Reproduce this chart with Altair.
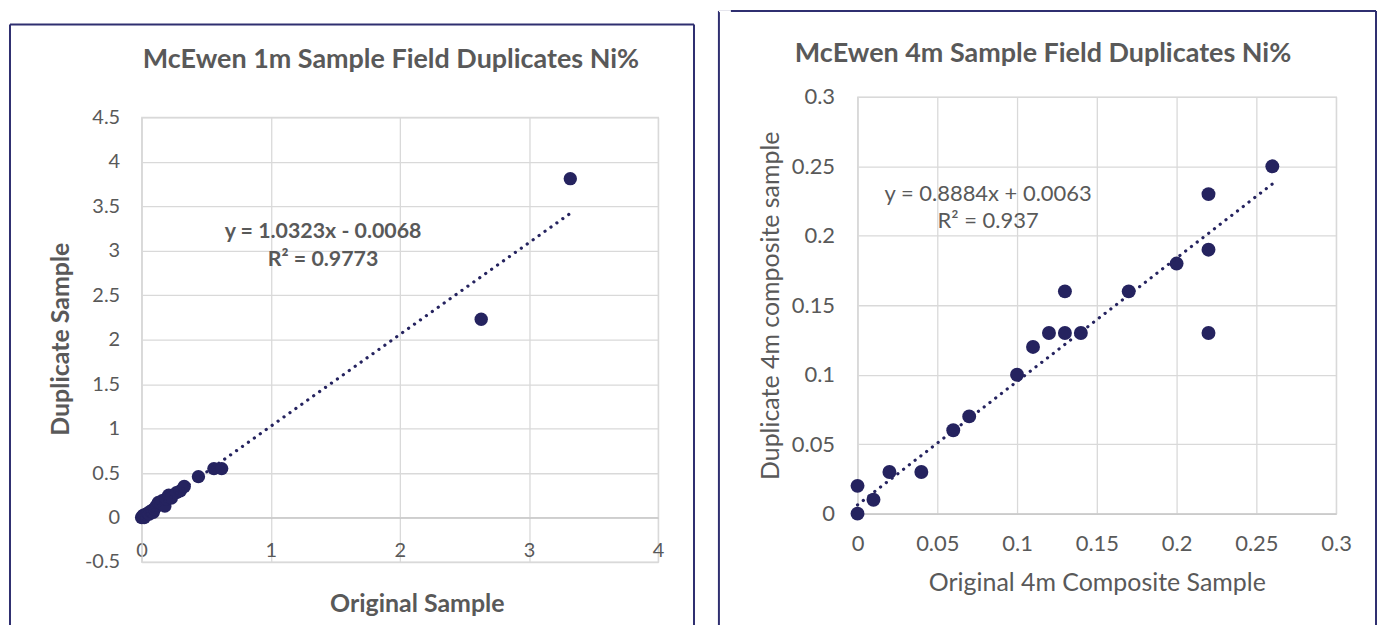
import altair as alt
import pandas as pd
import numpy as np

# ---------------- data: McEwen 1m field duplicates ----------------
orig_1m = [0.00, 0.01, 0.01, 0.02, 0.02, 0.03, 0.04, 0.05, 0.06, 0.07, 0.08, 0.09,
           0.10, 0.11, 0.12, 0.13, 0.15, 0.16, 0.18, 0.19, 0.21, 0.23, 0.27, 0.30,
           0.33, 0.44, 0.56, 0.62, 2.63, 3.32]
dup_1m = [0.00, 0.01, 0.02, 0.00, 0.03, 0.02, 0.04, 0.05, 0.04, 0.07, 0.08, 0.06,
          0.10, 0.12, 0.14, 0.17, 0.16, 0.19, 0.13, 0.21, 0.25, 0.22, 0.28, 0.30,
          0.35, 0.46, 0.55, 0.55, 2.23, 3.81]
slope_1m, intercept_1m = 1.0323, -0.0068
eq_1m = "y = 1.0323x - 0.0068"
r2_1m = "R² = 0.9773"
title_1m = "McEwen 1m Sample Field Duplicates Ni%"
xtitle_1m = "Original Sample"
ytitle_1m = "Duplicate Sample"
xticks_1m = [0, 1, 2, 3, 4]
yticks_1m = [-0.5, 0, 0.5, 1, 1.5, 2, 2.5, 3, 3.5, 4, 4.5]

# ---------------- data: McEwen 4m composite duplicates ----------------
orig_4m = [0.00, 0.00, 0.01, 0.02, 0.04, 0.06, 0.07, 0.10, 0.11, 0.12, 0.13, 0.13,
           0.14, 0.17, 0.20, 0.22, 0.22, 0.22, 0.26]
dup_4m = [0.00, 0.02, 0.01, 0.03, 0.03, 0.06, 0.07, 0.10, 0.12, 0.13, 0.13, 0.16,
          0.13, 0.16, 0.18, 0.23, 0.19, 0.13, 0.25]
slope_4m, intercept_4m = 0.8884, 0.0063
eq_4m = "y = 0.8884x + 0.0063"
r2_4m = "R² = 0.937"
title_4m = "McEwen 4m Sample Field Duplicates Ni%"
xtitle_4m = "Original 4m Composite Sample"
ytitle_4m = "Duplicate 4m composite sample"
xticks_4m = [0, 0.05, 0.1, 0.15, 0.2, 0.25, 0.3]
yticks_4m = [0, 0.05, 0.1, 0.15, 0.2, 0.25, 0.3]

NAVY = "#25235f"
FRAME = "#2f2f70"
TXT = "#595959"
GRID = "#d9d9d9"
AXIS = "#c4c4c4"
FONT = "Lato"

one = alt.Data(values=[{"k": 1}])


def frame_rules(left, right, top, bottom, align_top):
    base = alt.Chart(one)
    r1 = base.mark_rule(color=FRAME, strokeWidth=2).encode(
        x=alt.value(left), y=alt.value(top), y2=alt.value(bottom))
    r2 = base.mark_rule(color=FRAME, strokeWidth=2).encode(
        x=alt.value(right), y=alt.value(top), y2=alt.value(bottom))
    r3 = base.mark_rule(color=FRAME, strokeWidth=2).encode(
        x=alt.value(left), x2=alt.value(right), y=alt.value(top))
    r4 = base.mark_rule(color="white", strokeWidth=2).encode(
        x=alt.value(left), x2=alt.value(left + 12), y=alt.value(align_top))
    return [r1, r2, r3, r4]


def text_at(txt, x, y, size, bold):
    return alt.Chart(one).mark_text(
        font=FONT, fontSize=size, fontWeight="bold" if bold else "normal",
        color=TXT, align="center", baseline="middle").encode(
        x=alt.value(x), y=alt.value(y), text=alt.value(txt))


def panel(xs, ys, slope, intercept, eq, r2, title, xtitle, ytitle, xticks, yticks,
          w, h, xoff, lab_size, ttl_size, ttl_bold, eq_size, eq_bold, msize,
          xlab_pad, ylab_pad, xt_pos, yt_pos, title_pos, eq_pos, frame):
    df = pd.DataFrame({"orig": xs, "dup": ys})
    xr = np.array([min(xs), max(xs)])
    tr = pd.DataFrame({"orig": xr, "dup": slope * xr + intercept})

    label_expr = "datum.value + ''"
    xenc = alt.X("orig:Q",
                 scale=alt.Scale(domain=[xticks[0], xticks[-1]], nice=False, zero=False),
                 axis=alt.Axis(values=xticks, labelExpr=label_expr, offset=xoff,
                               labelFlush=False, labelOverlap=False,
                               grid=True, gridColor=GRID, gridWidth=1.3,
                               domain=True, domainColor=AXIS, domainWidth=1.3,
                               ticks=False, tickSize=0, labelPadding=xlab_pad,
                               labelBaseline="middle",
                               labelFont=FONT, labelFontSize=lab_size, labelColor=TXT,
                               title=xtitle, titleFont=FONT, titleFontSize=ttl_size,
                               titleFontWeight="bold" if ttl_bold else "normal",
                               titleColor=TXT, titleX=xt_pos[0], titleY=xt_pos[1],
                               titleAlign="center", titleBaseline="middle"))
    yenc = alt.Y("dup:Q",
                 scale=alt.Scale(domain=[yticks[0], yticks[-1]], nice=False, zero=False),
                 axis=alt.Axis(values=yticks, labelExpr=label_expr,
                               labelFlush=False, labelOverlap=False,
                               grid=True, gridColor=GRID, gridWidth=1.3,
                               domain=True, domainColor=GRID, domainWidth=1.3,
                               ticks=False, tickSize=0, labelPadding=ylab_pad,
                               labelFont=FONT, labelFontSize=lab_size, labelColor=TXT,
                               title=ytitle, titleFont=FONT, titleFontSize=ttl_size,
                               titleFontWeight="bold" if ttl_bold else "normal",
                               titleColor=TXT, titleX=yt_pos[0], titleY=yt_pos[1],
                               titleAngle=270, titleAlign="center",
                               titleBaseline="middle"))

    pts = alt.Chart(df).mark_circle(size=msize, color=NAVY, opacity=1).encode(x=xenc, y=yenc)
    trend = alt.Chart(tr).mark_line(color=NAVY, strokeWidth=3.2, strokeDash=[0.1, 7.2],
                                    strokeCap="round").encode(x=xenc, y=yenc)
    layers = [pts, trend,
              text_at(eq, eq_pos[0], eq_pos[1], eq_size, eq_bold),
              text_at(r2, eq_pos[0], eq_pos[2], eq_size, eq_bold),
              text_at(title, title_pos[0], title_pos[1], 27, True)]
    layers += frame_rules(*frame)
    return alt.layer(*layers).properties(width=w, height=h)


left = panel(orig_1m, dup_1m, slope_1m, intercept_1m, eq_1m, r2_1m, title_1m,
             xtitle_1m, ytitle_1m, xticks_1m, yticks_1m,
             w=518, h=446, xoff=-44.6, lab_size=20, ttl_size=25, ttl_bold=True,
             eq_size=21.4, eq_bold=True, msize=180, xlab_pad=33, ylab_pad=22,
             xt_pos=(276, 86), yt_pos=(-81, 222), title_pos=(250, -57),
             eq_pos=(182, 115, 143), frame=(-132, 554, -93, 522, -105))

right = panel(orig_4m, dup_4m, slope_4m, intercept_4m, eq_4m, r2_4m, title_4m,
              xtitle_4m, ytitle_4m, xticks_4m, yticks_4m,
              w=480, h=418, xoff=0, lab_size=22, ttl_size=25, ttl_bold=False,
              eq_size=22, eq_bold=False, msize=195, xlab_pad=30, ylab_pad=23,
              xt_pos=(240, 69), yt_pos=(-87, 209), title_pos=(186, -43),
              eq_pos=(131, 97, 125), frame=(-139, 520, -86, 563, -86))

chart = alt.hconcat(left, right, spacing=21, center=True).properties(
    padding=0, background="white"
).configure_view(stroke=GRID, strokeWidth=1.3)

chart.save("out.html", embed_options={"renderer": "svg", "actions": False})
